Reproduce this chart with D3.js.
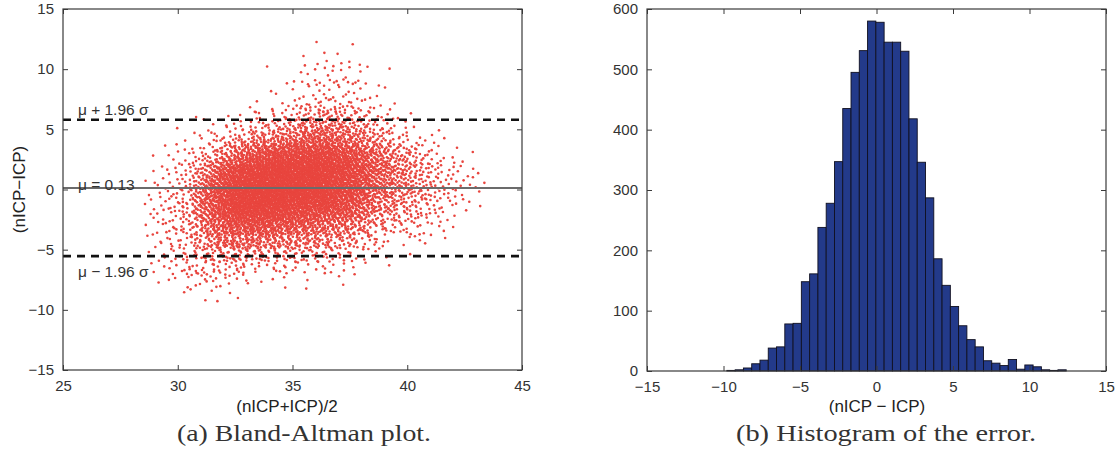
<!DOCTYPE html>
<html>
<head>
<meta charset="utf-8">
<script src="https://cdn.jsdelivr.net/npm/d3@7/dist/d3.min.js"></script>
<style>
  html, body { margin: 0; padding: 0; background: #fff; }
  svg { display: block; }
  .tick-label { font-family: "Liberation Sans", Arial, sans-serif; font-size: 15px; fill: #333; }
  .axis-title { font-family: "Liberation Sans", Arial, sans-serif; font-size: 17px; fill: #222; }
  .annot { font-family: "Liberation Sans", Arial, sans-serif; font-size: 15.5px; fill: #333; }
  .caption { font-family: "Liberation Serif", "Times New Roman", serif; font-size: 23px; fill: #333; }
</style>
</head>
<body>
<svg id="fig" width="1118" height="468"></svg>
<script>
// ---- Histogram of the error (nICP - ICP): 41 equal bins ----
const errBinLow = -9.78;
const errBinHigh = 12.40;
const errCounts = [1, 2, 5, 12, 18, 38, 40, 78, 79, 148, 161, 238, 278, 347, 435,
                   495, 531, 580, 578, 545, 545, 530, 418, 346, 287, 186, 142, 107,
                   75, 52, 40, 17, 13, 9, 19, 3, 10, 7, 2, 1, 2];

// ---- Bland-Altman statistics ----
const baMean = 0.13;
const baSigma = 2.893;

// ---- Scatter density of (nICP+ICP)/2: relative weight at each column
//      centre, one row per 2-unit band of the difference ----
const densCols = [28.5, 29.5, 30.5, 31.5, 32.5, 33.5, 34.5, 35.5, 36.5, 37.5, 38.5, 39.5, 40.5, 41.5, 42.5, 43.5];
const densRowCenters = [-9, -7, -5, -3, -1, 1, 3, 5, 7, 9, 11];
const densRows = [
  [0,    0,   0.3, 1.0, 0.3, 0,    0.1, 0.2, 0,   0,   0,   0,   0,   0,   0,   0  ],
  [0,    0.5, 1.2, 1.5, 1.0, 0.5,  0.4, 0.3, 0.3, 0.3, 0,   0,   0,   0,   0,   0  ],
  [0.1,  0.8, 1.5, 3.0, 4.0, 3.5,  3.0, 2.5, 2.2, 1.5, 0.4, 0.2, 0.1, 0,   0,   0  ],
  [0.2,  0.7, 1.5, 5.0, 8.0, 8.0,  7.0, 6.0, 5.0, 4.0, 2.0, 1.2, 0.8, 0.4, 0,   0  ],
  [0.2,  0.5, 1.2, 5.0, 9.0, 10.0, 9.5, 8.5, 8.0, 6.0, 3.0, 2.0, 1.2, 0.6, 0.2, 0.1],
  [0.05, 0.3, 0.8, 3.5, 8.0, 10.0, 10.0,10.0, 9.0, 7.0, 4.0, 2.5, 1.5, 0.7, 0.4, 0.1],
  [0,    0.2, 0.5, 1.5, 4.0, 7.0,  8.0, 9.0, 9.0, 7.0, 4.5, 2.5, 1.2, 0.4, 0.1, 0  ],
  [0,    0,   0.2, 0.5, 1.0, 2.0,  3.0, 5.0, 6.0, 4.5, 2.5, 1.0, 0.3, 0,   0,   0  ],
  [0,    0,   0,   0,   0,   0.3,  0.8, 2.0, 3.0, 2.5, 1.0, 0.2, 0,   0,   0,   0  ],
  [0,    0,   0,   0,   0,   0,    0.3, 1.0, 1.5, 1.5, 0.5, 0,   0,   0,   0,   0  ],
  [0,    0,   0,   0,   0,   0,    0,   0.3, 1.0, 0.8, 0.1, 0,   0,   0,   0,   0  ]
];

// ---- Tick values ----
const baXTicks = [25, 30, 35, 40, 45];
const baYTicks = [-15, -10, -5, 0, 5, 10, 15];
const histXTicks = [-15, -10, -5, 0, 5, 10, 15];
const histYTicks = [0, 100, 200, 300, 400, 500, 600];

const svg = d3.select("#fig");
const tickLen = 5;
const boxColor = "#3a3a3a";

// Axis frames
const left = { x0: 63, x1: 522, y0: 9, y1: 370 };
const right = { x0: 647, x1: 1106, y0: 9, y1: 371 };

const xBA = d3.scaleLinear().domain([25, 45]).range([left.x0, left.x1]);
const yBA = d3.scaleLinear().domain([-15, 15]).range([left.y1, left.y0]);
const xH = d3.scaleLinear().domain([-15, 15]).range([right.x0, right.x1]);
const yH = d3.scaleLinear().domain([0, 600]).range([right.y1, right.y0]);

// Boxed frame with inward ticks on all four sides
function frame(g, xs, ys, xt, yt) {
  const [xa, xb] = xs.range();
  const [yb, ya] = ys.range();
  g.append("g").attr("transform", `translate(0,${yb})`)
    .call(d3.axisBottom(xs).tickValues(xt).tickSizeInner(-tickLen).tickSizeOuter(0).tickPadding(10))
    .call(a => a.select(".domain").remove());
  g.append("g").attr("transform", `translate(0,${ya})`)
    .call(d3.axisTop(xs).tickValues(xt).tickSizeInner(-tickLen).tickSizeOuter(0).tickFormat(""))
    .call(a => a.select(".domain").remove());
  g.append("g").attr("transform", `translate(${xa},0)`)
    .call(d3.axisLeft(ys).tickValues(yt).tickSizeInner(-tickLen).tickSizeOuter(0).tickPadding(9))
    .call(a => a.select(".domain").remove());
  g.append("g").attr("transform", `translate(${xb},0)`)
    .call(d3.axisRight(ys).tickValues(yt).tickSizeInner(-tickLen).tickSizeOuter(0).tickFormat(""))
    .call(a => a.select(".domain").remove());
  g.selectAll(".tick line").attr("stroke", boxColor).attr("stroke-width", 1);
  g.selectAll(".tick text").attr("class", "tick-label")
    .text(function () { return this.textContent.replace("-", "\u2212"); });
  g.append("rect").attr("x", xa).attr("y", ya).attr("width", xb - xa).attr("height", yb - ya)
    .attr("fill", "none").attr("stroke", boxColor).attr("stroke-width", 1.2);
}

// ---------------- Bland-Altman scatter ----------------
const gBA = svg.append("g");

// Column weights for a given difference value (blend between band centres)
function rowWeights(y) {
  const rc = densRowCenters;
  if (y <= rc[0]) return densRows[0];
  if (y >= rc[rc.length - 1]) return densRows[rc.length - 1];
  let i = 0;
  while (y > rc[i + 1]) i++;
  const t = (y - rc[i]) / (rc[i + 1] - rc[i]);
  return densRows[i].map((w, k) => w * (1 - t) + densRows[i + 1][k] * t);
}

// Inverse CDF of a piecewise-linear density through the column centres
function xFromWeights(w, u) {
  const knots = densCols;
  const areas = [];
  for (let k = 0; k < knots.length - 1; k++) areas.push((w[k] + w[k + 1]) / 2 * (knots[k + 1] - knots[k]));
  const total = d3.sum(areas);
  let target = u * total;
  for (let k = 0; k < areas.length; k++) {
    if (target <= areas[k] && areas[k] > 0) {
      const a = w[k], b = w[k + 1], h = knots[k + 1] - knots[k];
      const s = (b - a) / h;
      let dx;
      if (Math.abs(s) < 1e-9) dx = target / a;
      else dx = (-a + Math.sqrt(Math.max(0, a * a + 2 * s * target))) / s;
      return knots[k] + dx;
    }
    target -= areas[k];
  }
  return knots[knots.length - 1];
}

// Radical-inverse (Halton) lattice used to spread each bin's points
function halton(i, b) {
  let f = 1, r = 0;
  while (i > 0) { f /= b; r += f * (i % b); i = Math.floor(i / b); }
  return r;
}

const binW = (errBinHigh - errBinLow) / errCounts.length;
const pts = [];
let n = 17;
errCounts.forEach((c, i) => {
  const lo = errBinLow + i * binW;
  for (let k = 0; k < c; k++, n++) {
    const y = lo + halton(n, 3) * binW;
    const x = xFromWeights(rowWeights(y), halton(n, 2));
    pts.push([x, y]);
  }
});

gBA.append("g").selectAll("circle").data(pts).join("circle")
  .attr("cx", d => xBA(d[0])).attr("cy", d => yBA(d[1])).attr("r", 1.3)
  .attr("fill", "#e8453e");

// Mean and limits of agreement
const upper = baMean + 1.96 * baSigma, lower = baMean - 1.96 * baSigma;
gBA.append("line").attr("x1", left.x0).attr("x2", left.x1)
  .attr("y1", yBA(baMean)).attr("y2", yBA(baMean))
  .attr("stroke", "#6b6b6b").attr("stroke-width", 2);
[upper, lower].forEach(v => {
  gBA.append("line").attr("x1", left.x0).attr("x2", left.x1)
    .attr("y1", yBA(v)).attr("y2", yBA(v))
    .attr("stroke", "#111").attr("stroke-width", 2.6).attr("stroke-dasharray", "8,6");
});
gBA.append("text").attr("class", "annot").attr("x", xBA(25.65)).attr("y", yBA(upper) - 5)
  .text("\u03bc + 1.96 \u03c3");
gBA.append("text").attr("class", "annot").attr("x", xBA(25.65)).attr("y", yBA(baMean) + 2)
  .text("\u03bc = " + baMean.toFixed(2));
gBA.append("text").attr("class", "annot").attr("x", xBA(25.65)).attr("y", yBA(lower) + 21)
  .text("\u03bc \u2212 1.96 \u03c3");

frame(gBA, xBA, yBA, baXTicks, baYTicks);

gBA.append("text").attr("class", "axis-title").attr("text-anchor", "middle")
  .attr("x", 287).attr("y", 412).text("(nICP+ICP)/2");
gBA.append("text").attr("class", "axis-title").attr("text-anchor", "middle")
  .attr("transform", `translate(25,${(left.y0 + left.y1) / 2}) rotate(-90)`)
  .text("(nICP\u2212ICP)");

// ---------------- Histogram ----------------
const gH = svg.append("g");
const bins = errCounts.map((c, i) => ({ x0: errBinLow + i * binW, x1: errBinLow + (i + 1) * binW, c }));
gH.append("g").selectAll("rect").data(bins).join("rect")
  .attr("x", d => xH(d.x0)).attr("width", d => xH(d.x1) - xH(d.x0))
  .attr("y", d => yH(d.c)).attr("height", d => yH(0) - yH(d.c))
  .attr("fill", "#233a8a").attr("stroke", "#101020").attr("stroke-width", 0.9);

frame(gH, xH, yH, histXTicks, histYTicks);

gH.append("text").attr("class", "axis-title").attr("text-anchor", "middle")
  .attr("x", 877).attr("y", 412).text("(nICP \u2212 ICP)");

// ---------------- Captions ----------------
svg.append("text").attr("class", "caption").attr("x", 304).attr("y", 441)
  .attr("text-anchor", "middle").attr("textLength", 254).attr("lengthAdjust", "spacingAndGlyphs")
  .text("(a) Bland-Altman plot.");
svg.append("text").attr("class", "caption").attr("x", 886).attr("y", 441)
  .attr("text-anchor", "middle").attr("textLength", 300).attr("lengthAdjust", "spacingAndGlyphs")
  .text("(b) Histogram of the error.");
</script>
</body>
</html>
